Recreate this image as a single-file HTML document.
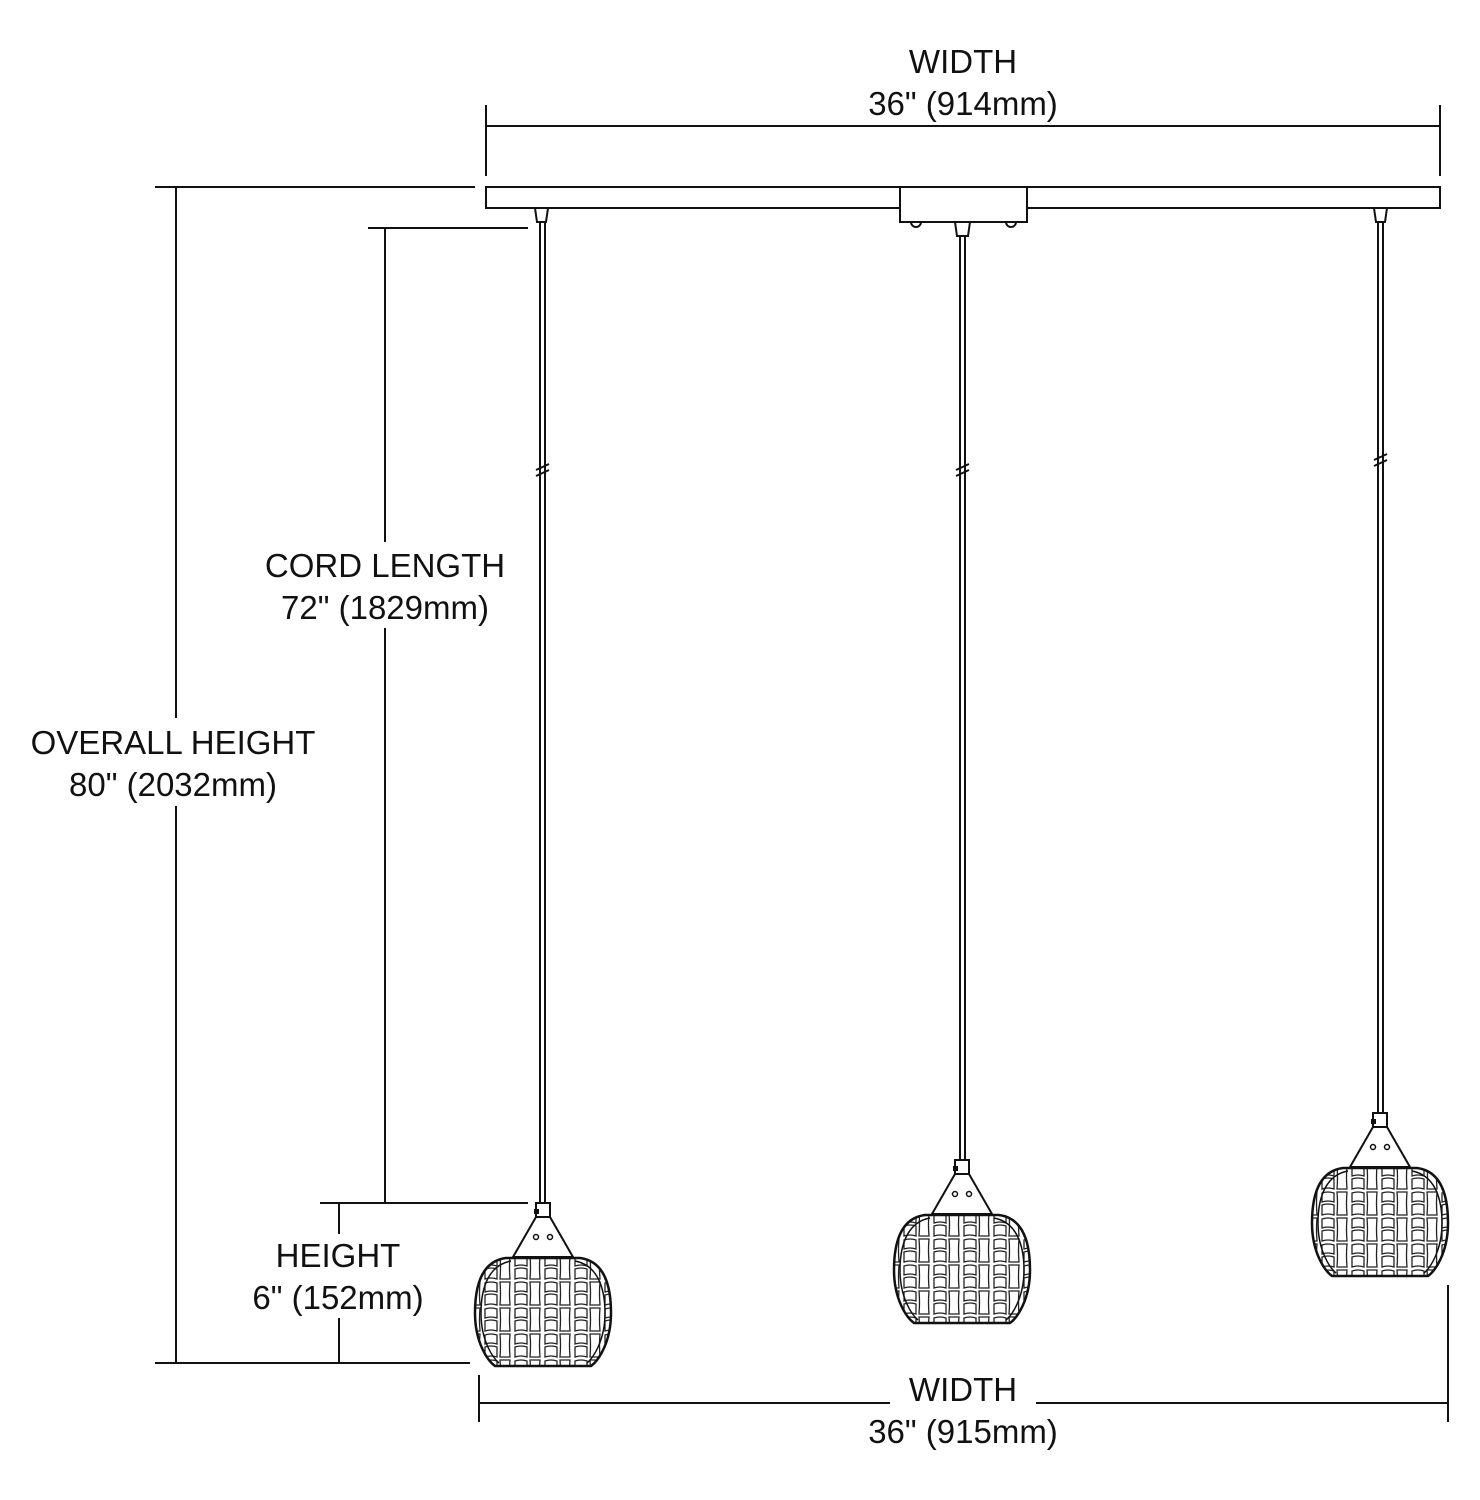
<!DOCTYPE html>
<html><head><style>body{margin:0;background:#fff}svg{display:block}text{font-family:"Liberation Sans",sans-serif;font-size:33px;fill:#111;text-anchor:middle}</style></head>
<body>
<svg width="1480" height="1500" viewBox="0 0 1480 1500" xmlns="http://www.w3.org/2000/svg">
<defs>
<pattern id="weave" width="30" height="26" patternUnits="userSpaceOnUse">
<rect width="30" height="26" fill="#fff"/>
<g fill="none" stroke="#222" stroke-width="1.3">
<path d="M2,2 Q8,0 14,2 L14,11 Q8,9 2,11 Z"/>
<path d="M17,1 Q18,12 17,24 L27,24 Q26,12 27,1 Z"/>
<path d="M2,14 Q8,12 14,14 L14,24 Q8,22 2,24 Z"/>
</g>
</pattern>
<g id="pend">
<path d="M-7,0 L7,0 L7,14 L-7,14 Z" fill="#fff" stroke="#111" stroke-width="2"/>
<rect x="-9" y="6" width="5" height="5" fill="#111"/>
<path d="M-7,14 L7,14 L30,54 L-30,54 Z" fill="#fff" stroke="#111" stroke-width="2"/>
<circle cx="-7" cy="34" r="2.5" fill="none" stroke="#111" stroke-width="1.5"/>
<circle cx="7" cy="34" r="2.5" fill="none" stroke="#111" stroke-width="1.5"/>
<path d="M-37,55 C-60,58 -68,80 -68,110 C-68,140 -55,158 -48,163 L48,163 C55,158 68,140 68,110 C68,80 60,58 37,55 Z" fill="url(#weave)" stroke="#111" stroke-width="2.5"/>
<path d="M-32,58 C-54,62 -62,84 -62,110 C-62,138 -50,155 -44,160" fill="none" stroke="#111" stroke-width="1.5"/>
<path d="M32,58 C54,62 62,84 62,110 C62,138 50,155 44,160" fill="none" stroke="#111" stroke-width="1.5"/>
</g>
</defs>
<g stroke="#111" stroke-width="2" fill="none">
<line x1="486" y1="126" x2="1440" y2="126"/>
<line x1="486" y1="105" x2="486" y2="176"/>
<line x1="1440" y1="105" x2="1440" y2="176"/>
<rect x="486" y="187" width="954" height="21" fill="#fff"/>
<rect x="900" y="187" width="127" height="35" fill="#fff"/>
<path d="M911,222 a5,5 0 0 0 10,0"/><path d="M1006,222 a5,5 0 0 0 10,0"/>
<path d="M535,208 L548,208 L546,222 L537,222 Z" fill="#fff"/>
<path d="M955,222 L970,222 L968,236 L957,236 Z" fill="#fff"/>
<path d="M1374,208 L1387,208 L1385,222 L1376,222 Z" fill="#fff"/>
<line x1="540" y1="222" x2="540" y2="1203"/><line x1="545" y1="222" x2="545" y2="1203"/>
<line x1="960" y1="236" x2="960" y2="1160"/><line x1="965" y1="236" x2="965" y2="1160"/>
<line x1="1378" y1="222" x2="1378" y2="1113"/><line x1="1383" y1="222" x2="1383" y2="1113"/>
<path d="M536,470 L549,464 M536,476 L549,470"/>
<path d="M956,470 L969,464 M956,476 L969,470"/>
<path d="M1374,460 L1387,454 M1374,466 L1387,460"/>
<line x1="155" y1="187" x2="475" y2="187"/>
<line x1="155" y1="1363" x2="470" y2="1363"/>
<line x1="176" y1="187" x2="176" y2="718"/>
<line x1="176" y1="806" x2="176" y2="1363"/>
<line x1="368" y1="228" x2="528" y2="228"/>
<line x1="320" y1="1203" x2="528" y2="1203"/>
<line x1="385" y1="228" x2="385" y2="542"/>
<line x1="385" y1="628" x2="385" y2="1203"/>
<line x1="339" y1="1203" x2="339" y2="1234"/>
<line x1="339" y1="1318" x2="339" y2="1363"/>
<line x1="479" y1="1375" x2="479" y2="1422"/>
<line x1="1448" y1="1285" x2="1448" y2="1422"/>
<line x1="479" y1="1403" x2="890" y2="1403"/>
<line x1="1036" y1="1403" x2="1448" y2="1403"/>
</g>
<use href="#pend" x="543" y="1203"/>
<use href="#pend" x="962" y="1160"/>
<use href="#pend" x="1380" y="1113"/>
<text x="963" y="73">WIDTH</text>
<text x="963" y="115">36" (914mm)</text>
<text x="385" y="577">CORD LENGTH</text>
<text x="385" y="619">72" (1829mm)</text>
<text x="173" y="754">OVERALL HEIGHT</text>
<text x="173" y="796">80" (2032mm)</text>
<text x="338" y="1267">HEIGHT</text>
<text x="338" y="1309">6" (152mm)</text>
<text x="963" y="1401">WIDTH</text>
<text x="963" y="1443">36" (915mm)</text>
</svg>
</body></html>
